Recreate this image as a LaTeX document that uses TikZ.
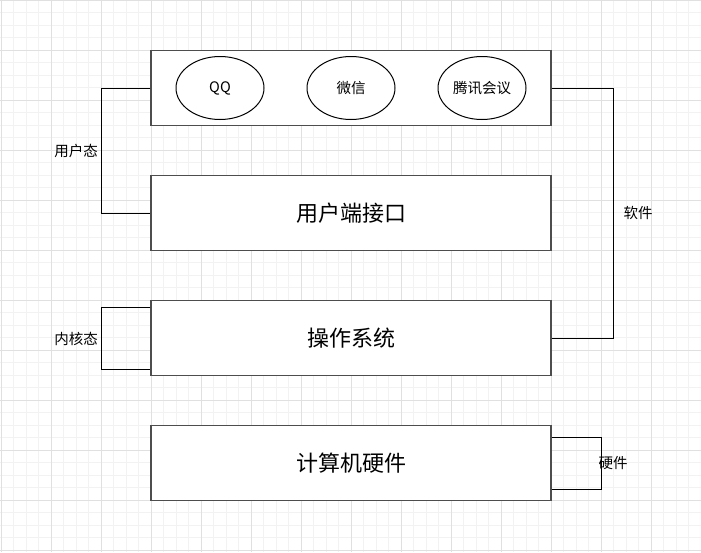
\documentclass[tikz,border=0pt]{standalone}
\usepackage{fontspec}
\setmainfont{Noto Sans CJK SC}
\usetikzlibrary{shapes.geometric}
\definecolor{gridminor}{HTML}{F2F2F2}
\definecolor{gridmajor}{HTML}{E0E0E0}
\definecolor{boxline}{HTML}{4D4D4D}
\tikzset{
  layer/.style={draw=boxline, line width=1.5pt, fill=white, minimum width=400pt,
    minimum height=75pt, inner sep=0pt, font=\fontsize{22}{26}\selectfont},
  app/.style={draw=black, line width=1pt, ellipse, minimum width=88pt,
    minimum height=63pt, inner sep=0pt, font=\fontsize{14.5}{17}\selectfont},
  wire/.style={draw=black, line width=1pt},
  tag/.style={font=\fontsize{14.5}{17}\selectfont, inner sep=0pt}
}

\begin{document}
\begin{tikzpicture}[x=1pt, y=-1pt]
        \useasboundingbox (0,0) rectangle (701,552);
        \fill[white] (0,0) rectangle (701,552);
        \draw[gridminor, line width=0.8pt, step=12.5pt, shift={(1pt,0pt)}] (-1,0) grid (700,552);
        \draw[gridmajor, line width=0.8pt, step=50pt, shift={(1pt,0pt)}] (-1,0) grid (700,552);

        \node[layer] (apps) at (351,88) {};
        \node[app] (qq) at (220,88) {QQ};
        \node[app] (wechat) at (351,88) {微信};
        \node[app] (meeting) at (482,88) {腾讯会议};

        \node[layer] (iface) at (351,213) {用户端接口};
        \node[layer] (os) at (351,338) {操作系统};
        \node[layer] (hw) at (351,463) {计算机硬件};

        \coordinate (userl) at (101,88);
        \draw[wire] (apps.west) -- (userl) |- (iface.west);
        \node[tag, anchor=east] (user) at (98,151) {用户态};

        \coordinate (kern1) at (101,307);
        \coordinate (kern2) at (101,369);
        \draw[wire] (os.west |- kern1) -- (kern1) -- (kern2) -- (os.west |- kern2);
        \node[tag, anchor=east] (kernel) at (98,339) {内核态};

        \coordinate (softr) at (613,88);
        \draw[wire] (apps.east) -- (softr) |- (os.east);
        \node[tag] (soft) at (638,213) {软件};

        \coordinate (hard1) at (601,437);
        \coordinate (hard2) at (601,489);
        \draw[wire] (hw.east |- hard1) -- (hard1) -- (hard2) -- (hw.east |- hard2);
        \node[tag] (hard) at (613,463) {硬件};
\end{tikzpicture}
\end{document}
